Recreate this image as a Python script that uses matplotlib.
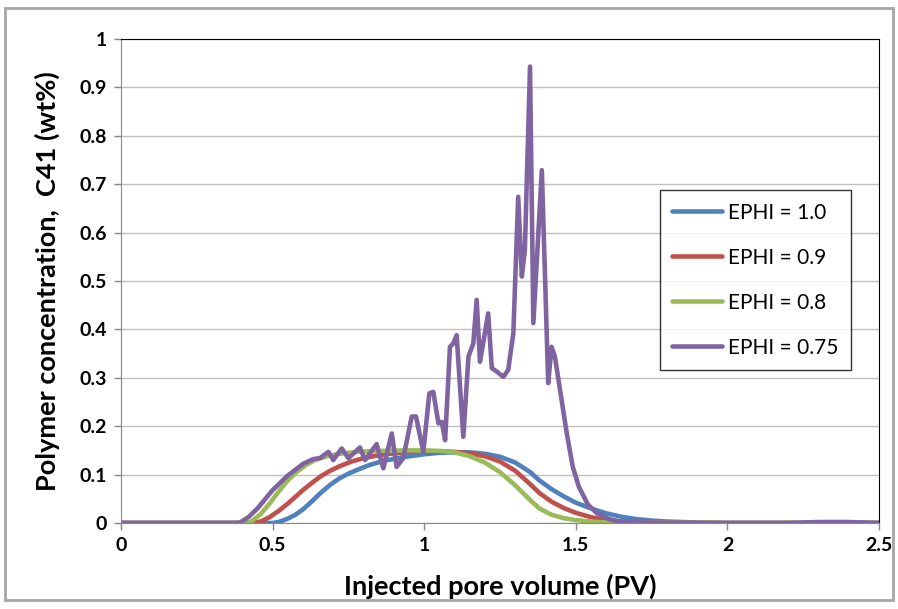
import numpy as np
import matplotlib.pyplot as plt
from matplotlib.patches import Rectangle

pv_10 = [0, 0.50, 0.52, 0.55, 0.575, 0.60, 0.63, 0.66, 0.69, 0.72, 0.75, 0.78, 0.82, 0.87, 0.93,
         1.0, 1.05, 1.1, 1.15, 1.2, 1.25, 1.3, 1.35, 1.38, 1.42, 1.46, 1.5, 1.55, 1.6, 1.65, 1.7,
         1.75, 1.8, 1.9, 2.0, 2.5]
c_10 = [0, 0, 0.002, 0.009, 0.017, 0.028, 0.045, 0.063, 0.079, 0.092, 0.102, 0.11, 0.12, 0.129, 0.136,
        0.142, 0.145, 0.146, 0.146, 0.143, 0.137, 0.125, 0.105, 0.088, 0.07, 0.055, 0.042, 0.03, 0.02,
        0.013, 0.008, 0.005, 0.003, 0.001, 0, 0]

pv_09 = [0, 0.436, 0.46, 0.49, 0.52, 0.55, 0.575, 0.60, 0.63, 0.66, 0.69, 0.72, 0.76, 0.80, 0.85,
         0.9, 0.95, 1.0, 1.05, 1.1, 1.15, 1.2, 1.25, 1.3, 1.35, 1.38, 1.42, 1.46, 1.5, 1.55, 1.6,
         1.65, 1.7, 1.8, 2.5]
c_09 = [0, 0, 0.003, 0.012, 0.025, 0.04, 0.054, 0.068, 0.083, 0.097, 0.108, 0.117, 0.127, 0.134, 0.14,
        0.144, 0.147, 0.148, 0.148, 0.147, 0.144, 0.138, 0.127, 0.108, 0.08, 0.062, 0.044, 0.031, 0.021,
        0.012, 0.006, 0.003, 0.001, 0, 0]

pv_08 = [0, 0.415, 0.43, 0.46, 0.49, 0.52, 0.55, 0.58, 0.61, 0.64, 0.68, 0.72, 0.78, 0.85, 0.95,
         1.0, 1.05, 1.1, 1.15, 1.2, 1.25, 1.3, 1.35, 1.38, 1.42, 1.46, 1.5, 1.55, 1.6, 1.65, 2.5]
c_08 = [0, 0, 0.003, 0.018, 0.04, 0.065, 0.088, 0.106, 0.12, 0.13, 0.138, 0.143, 0.147, 0.149, 0.15,
        0.15, 0.149, 0.146, 0.138, 0.125, 0.105, 0.078, 0.047, 0.03, 0.017, 0.01, 0.006, 0.003, 0.001, 0, 0]

pv_075 = [0, 0.39, 0.42, 0.45, 0.50, 0.55, 0.60, 0.634, 0.656, 0.684, 0.70, 0.728, 0.75, 0.788,
          0.805, 0.843, 0.865, 0.893, 0.909, 0.931, 0.959, 0.973, 0.997, 1.017, 1.030, 1.047,
          1.058, 1.069, 1.085, 1.096, 1.107, 1.129, 1.146, 1.162, 1.173, 1.184, 1.211, 1.223,
          1.239, 1.261, 1.277, 1.294, 1.310, 1.322, 1.332, 1.349, 1.360, 1.388, 1.409, 1.420,
          1.431, 1.448, 1.47, 1.49, 1.51, 1.54, 1.57, 1.61, 1.646, 1.75, 2.2, 2.3, 2.4, 2.5]
c_075 = [0, 0, 0.012, 0.03, 0.068, 0.098, 0.122, 0.132, 0.134, 0.147, 0.130, 0.154, 0.134, 0.156,
         0.130, 0.163, 0.113, 0.185, 0.116, 0.134, 0.220, 0.220, 0.147, 0.268, 0.271, 0.206,
         0.209, 0.171, 0.364, 0.371, 0.388, 0.178, 0.344, 0.371, 0.461, 0.333, 0.433, 0.320,
         0.313, 0.302, 0.316, 0.392, 0.674, 0.509, 0.564, 0.943, 0.413, 0.729, 0.289, 0.364,
         0.344, 0.275, 0.186, 0.116, 0.075, 0.038, 0.02, 0.008, 0.003, 0, 0, 0.002, 0.002, 0]

labels = ['EPHI = 1.0', 'EPHI = 0.9', 'EPHI = 0.8', 'EPHI = 0.75']
colors = ['#4F81BD', '#C0504D', '#9BBB59', '#8064A2']

plt.rcParams['font.family'] = ['Lato', 'DejaVu Sans']

fig = plt.figure(figsize=(8.98, 6.09), dpi=100)
ax = fig.add_axes([121/898, 1-523/609, 758/898, 484/609])

series = [(pv_10, c_10), (pv_09, c_09), (pv_08, c_08), (pv_075, c_075)]
for (x, y), lab, col in zip(series, labels, colors):
    ax.plot(x, y, color=col, lw=3.3, label=lab, solid_capstyle='round', solid_joinstyle='round')

ax.set_xlim(0, 2.5)
ax.set_ylim(0, 1)
ax.set_xticks(np.arange(0, 2.51, 0.5))
ax.set_xticklabels(['0', '0.5', '1', '1.5', '2', '2.5'])
ax.set_yticks(np.arange(0, 1.01, 0.1))
ax.set_yticklabels(['0'] + ['%.1f' % v for v in np.arange(0.1, 0.95, 0.1)] + ['1'])
ax.grid(axis='y', color='#BFBFBF', lw=1)
ax.set_axisbelow(True)
ax.tick_params(direction='out', length=5, width=1, color='#868686', labelsize=14, pad=5)
for t in ax.get_xticklabels() + ax.get_yticklabels():
    t.set_fontweight('bold')
for s in ['left', 'bottom']:
    ax.spines[s].set_color('#868686')
for s in ['top', 'right']:
    ax.spines[s].set_color('black')
    ax.spines[s].set_linewidth(0.8)

ax.set_xlabel('Injected pore volume (PV)', fontsize=19.5, fontweight='bold', labelpad=14)
ax.set_ylabel('Polymer concentration,  C41 (wt%)', fontsize=19.5, fontweight='bold', labelpad=14)

leg = ax.legend(loc='upper left', bbox_to_anchor=(0.711, 0.688), fontsize=15, frameon=True,
                fancybox=False, edgecolor='black', handlelength=2.4, labelspacing=1.2,
                borderpad=0.6, handletextpad=0.25, borderaxespad=0)
leg.get_frame().set_linewidth(1)

fig.patches.append(Rectangle((5/898, 9/609), 888/898, 592/609, transform=fig.transFigure,
                             fill=False, edgecolor='#A6A6A6', lw=2))

fig.savefig('out.png', dpi=100)
